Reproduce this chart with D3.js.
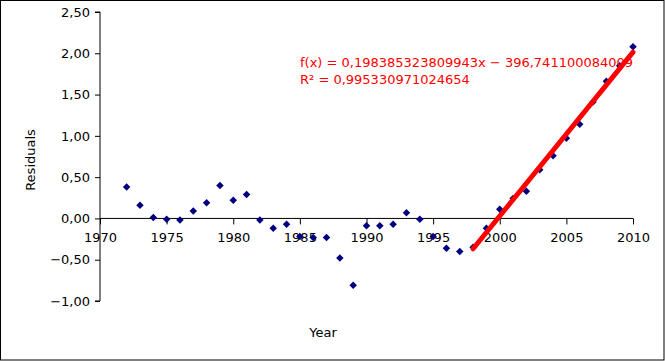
<!DOCTYPE html>
<html><head><meta charset="utf-8">
<script src="https://cdn.jsdelivr.net/npm/d3@7/dist/d3.min.js"></script>
<style>body{margin:0;background:#fff}svg{display:block}text{font-family:"DejaVu Sans",sans-serif}</style>
</head><body><svg id="c" width="665" height="361"></svg>
<script>
const years = [1972,1973,1974,1975,1976,1977,1978,1979,1980,1981,1982,1983,1984,1985,1986,1987,1988,1989,1990,1991,1992,1993,1994,1995,1996,1997,1998,1999,2000,2001,2002,2003,2004,2005,2006,2007,2008,2009,2010];
const residuals = [0.38,0.16,0.01,-0.01,-0.02,0.09,0.19,0.40,0.22,0.29,-0.02,-0.12,-0.07,-0.22,-0.23,-0.23,-0.48,-0.81,-0.09,-0.09,-0.07,0.07,-0.01,-0.22,-0.36,-0.40,-0.35,-0.12,0.11,0.24,0.33,0.59,0.76,0.97,1.14,1.41,1.66,1.85,2.08];
const xTicks = [1970,1975,1980,1985,1990,1995,2000,2005,2010];
const yTicks = [-1.0,-0.5,0,0.5,1.0,1.5,2.0,2.5];
const slope = 0.198385323809943, intercept = -396.741100084009;
const trendRange = [1998, 2010];
const eqText = "f(x) = 0,198385323809943x − 396,741100084009";
const r2Text = "R² = 0,995330971024654";

const svg = d3.select("#c");
svg.append("rect").attr("x",0.5).attr("y",0.5).attr("width",663.5).attr("height",359.5).attr("fill","#fff").attr("stroke","#000");

const x = d3.scaleLinear().domain([1970,2010]).range([100,633]);
const y = d3.scaleLinear().domain([-1,2.5]).range([301,12]);
const fmt = v => d3.format(".2f")(v).replace(".",",");

const ya = svg.append("g").attr("transform","translate(100,0)")
  .call(d3.axisLeft(y).tickValues(yTicks).tickSize(5).tickPadding(5).tickFormat(fmt));
const xa = svg.append("g").attr("transform",`translate(0,${y(0)})`)
  .call(d3.axisBottom(x).tickValues(xTicks).tickSize(6).tickPadding(8).tickFormat(d3.format("d")));
[ya,xa].forEach(g=>{
  g.select(".domain").attr("stroke","#000");
  g.selectAll(".tick line").attr("stroke","#000");
  g.selectAll("text").attr("fill","#000").style("font-size","13px").style("font-family","DejaVu Sans");
});
xa.select(".domain").attr("d",`M100,0H633`);
ya.select(".domain").attr("d",`M-5,${y(2.5)}H0V${y(-1)}H-5`);

svg.append("text").attr("transform","translate(35,160) rotate(-90)").attr("text-anchor","middle")
  .style("font-size","13px").text("Residuals");
svg.append("text").attr("x",323).attr("y",337).attr("text-anchor","middle")
  .style("font-size","13px").text("Year");

svg.append("g").selectAll("path").data(years).join("path")
  .attr("d", d3.symbol().type(d3.symbolSquare).size(28))
  .attr("transform",(d,i)=>`translate(${x(d)},${y(residuals[i])}) rotate(45)`)
  .attr("fill","#000080");

svg.append("text").attr("x",300).attr("y",67).attr("fill","#ff0000").style("font-size","13px").text(eqText);
svg.append("text").attr("x",300).attr("y",84).attr("fill","#ff0000").style("font-size","13px").text(r2Text);

svg.append("line")
  .attr("x1",x(trendRange[0])).attr("y1",y(slope*trendRange[0]+intercept))
  .attr("x2",x(trendRange[1])).attr("y2",y(slope*trendRange[1]+intercept))
  .attr("stroke","#ff0000").attr("stroke-width",5).attr("stroke-linecap","round");
</script></body></html>
